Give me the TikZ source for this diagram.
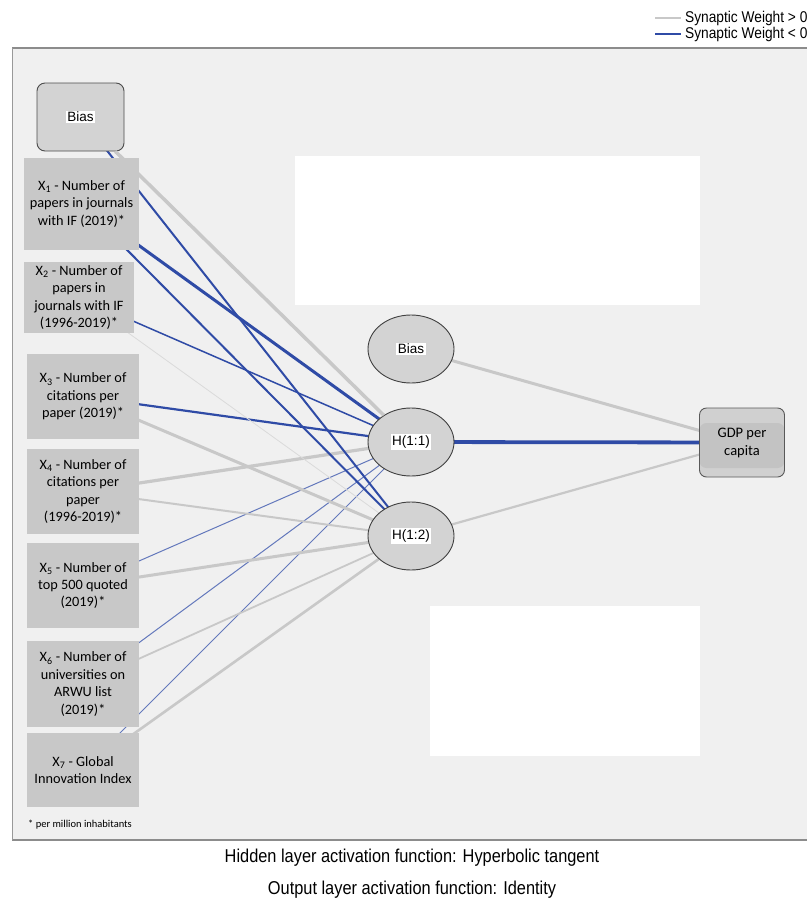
\documentclass[tikz,border=0pt]{standalone}
\usepackage{fontspec}
\setmainfont{Carlito}
\newfontfamily\arial{Liberation Sans}
\newfontfamily\arialn[FakeStretch=0.88]{Liberation Sans}
\usetikzlibrary{shapes.geometric}
\pgfdeclarelayer{back}
\pgfdeclarelayer{links}
\pgfsetlayers{back,links,main}
\definecolor{wpos}{HTML}{C8C8C8}
\definecolor{wposlight}{HTML}{DADADA}
\definecolor{wneg}{HTML}{2F4BA6}
\definecolor{panel}{HTML}{F0F0F0}
\definecolor{boxfill}{HTML}{C8C8C8}
\definecolor{hidfill}{HTML}{D3D3D3}
\definecolor{gdpout}{HTML}{D0D0D0}
\definecolor{gdpband}{HTML}{C3C3C3}
\setlength{\fboxsep}{1.5pt}
\tikzset{
  inbox/.style={rectangle, fill=boxfill, inner sep=0pt, align=center,
    font=\fontsize{14.3}{17.4}\selectfont},
  hid/.style={ellipse, draw=black!75, line width=0.9pt, fill=hidfill,
    minimum width=86pt, minimum height=68pt, inner sep=0pt,
    font=\arial\fontsize{13.5}{15}\selectfont},
  biasbox/.style={rectangle, rounded corners=8pt, draw=black!70, line width=0.9pt,
    fill=hidfill, minimum width=87pt, minimum height=68pt, inner sep=0pt,
    font=\arial\fontsize{13.5}{15}\selectfont},
  outbox/.style={rectangle, rounded corners=7pt, draw=black!65, line width=0.9pt,
    fill=gdpout, minimum width=85pt, minimum height=69pt, inner sep=0pt, align=center,
    font=\fontsize{14.5}{18}\selectfont},
  caption/.style={font=\arialn\fontsize{18.6}{21}\selectfont},
  legtext/.style={anchor=west, inner sep=0pt, font=\arialn\fontsize{15.6}{17}\selectfont},
}
\begin{document}
\begin{tikzpicture}[x=1pt,y=-1pt]
\useasboundingbox (0,0) rectangle (807,903);
\begin{pgfonlayer}{back}
  \fill[white] (0,0) rectangle (807,903);
  \fill[panel] (12,48) rectangle (807,840);
  \draw[black!45, line width=1.6pt] (12,48) -- (807,48);
  \draw[black!45, line width=1.6pt] (12,840) -- (807,840);
  \draw[black!40, line width=0.8pt] (12,48) -- (12,840);
  \fill[white] (295,156) rectangle (700,305);
  \fill[white] (430,606) rectangle (700,756);
  % legend
  \draw[wpos, line width=1.5pt] (655,18) -- (681,18);
  \draw[wneg, line width=2pt] (655,34) -- (681,34);
\end{pgfonlayer}

\node[legtext] (legpos) at (685,18) {Synaptic Weight > 0};
\node[legtext] (legneg) at (685,34) {Synaptic Weight < 0};

% input layer
\node[biasbox] (bias0) at (80.5,117) {\colorbox{white}{Bias}};
\node[inbox, minimum width=115pt, minimum height=92pt] (x1) at (81.5,204)
  {X\textsubscript{1} - Number of\\papers in journals\\with IF (2019)*};
\node[inbox, minimum width=110pt, minimum height=71pt] (x2) at (79,297.5)
  {X\textsubscript{2} - Number of\\papers in\\journals with IF\\(1996-2019)*};
\node[inbox, minimum width=112pt, minimum height=85pt] (x3) at (83,396.5)
  {X\textsubscript{3} - Number of\\citations per\\paper (2019)*};
\node[inbox, minimum width=112pt, minimum height=85pt] (x4) at (83,491.5)
  {X\textsubscript{4} - Number of\\citations per\\paper\\(1996-2019)*};
\node[inbox, minimum width=112pt, minimum height=85pt] (x5) at (83,585.5)
  {X\textsubscript{5} - Number of\\top 500 quoted\\(2019)*};
\node[inbox, minimum width=112pt, minimum height=86pt] (x6) at (83,684)
  {X\textsubscript{6} - Number of\\universities on\\ARWU list\\(2019)*};
\node[inbox, minimum width=112pt, minimum height=74pt] (x7) at (83,770)
  {X\textsubscript{7} - Global\\Innovation Index};
\node[anchor=west, inner sep=0pt, font=\fontsize{10.5}{12}\selectfont] (note) at (28,825)
  {* per million inhabitants};

% hidden layer
\node[hid] (b1) at (411,349) {\colorbox{white}{Bias}};
\node[hid] (h1) at (411,442) {\colorbox{white}{H(1:1)}};
\node[hid] (h2) at (411,536) {\colorbox{white}{H(1:2)}};

% output layer
\node[outbox, path picture={\fill[gdpband]
   ([yshift=-15pt]path picture bounding box.north west) rectangle
   ([yshift=9pt]path picture bounding box.south east);}] (gdp) at (742,442.5)
  {GDP per\\capita};

% captions
\node[caption] (cap1) at (412,858) {Hidden layer activation function: Hyperbolic tangent};
\node[caption] (cap2) at (412,890) {Output layer activation function: Identity};

\begin{pgfonlayer}{links}
  % to H(1:1)
  \draw[wneg, line width=3pt] (x1.center) -- (h1.center);
  \draw[wneg, line width=1.5pt] (x2.center) -- (h1.center);
  \draw[wneg, line width=2.2pt] (x3.center) -- (h1.center);
  \draw[wpos, line width=3.2pt] (x4.center) -- (h1.center);
  \draw[wneg!75, line width=1pt] (x5.center) -- (h1.center);
  \draw[wneg!75, line width=1pt] (x6.center) -- (h1.center);
  \draw[wneg!75, line width=0.9pt] (x7.center) -- (h1.center);
  % to H(1:2)
  \draw[wneg, line width=2pt] (bias0.center) -- (h2.center);
  \draw[wneg, line width=2pt] (x1.center) -- (h2.center);
  \draw[wposlight, line width=0.8pt] (x2.center) -- (h2.center);
  \draw[wpos, line width=3pt] (x3.center) -- (h2.center);
  \draw[wpos, line width=2pt] (x4.center) -- (h2.center);
  \draw[wpos, line width=3pt] (x5.center) -- (h2.center);
  \draw[wpos, line width=1.8pt] (x6.center) -- (h2.center);
  \draw[wpos, line width=2.6pt] (x7.center) -- (h2.center);
  % to output
  \draw[wpos, line width=3pt] (b1.center) -- (gdp.center);
  \draw[wneg, line width=3.8pt] (h1.center) -- (gdp.center);
  \draw[wpos, line width=2.2pt] (h2.center) -- (gdp.center);
\end{pgfonlayer}
\draw[wpos, line width=3.5pt] (bias0) -- (h1);
\end{tikzpicture}
\end{document}
